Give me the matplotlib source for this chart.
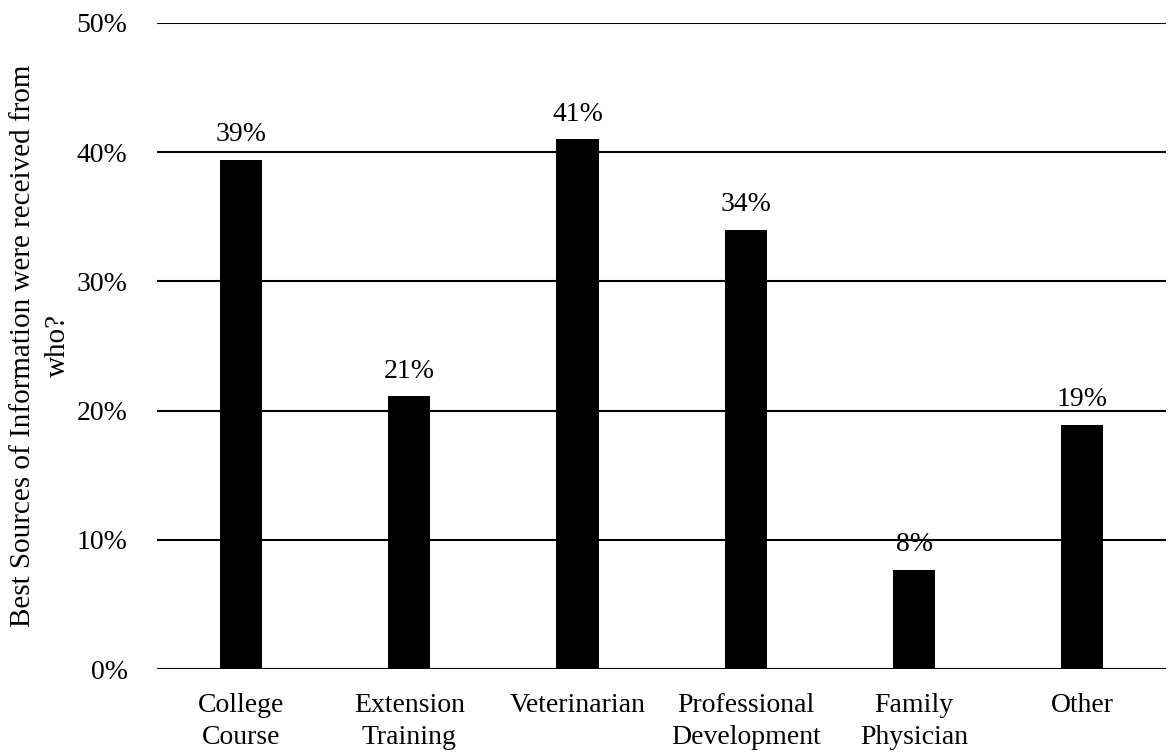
import matplotlib.pyplot as plt
import numpy as np

plt.rcParams['font.family'] = ['Liberation Serif', 'DejaVu Serif']

categories = ['College\nCourse', 'Extension\nTraining', 'Veterinarian',
              'Professional\nDevelopment', 'Family\nPhysician', 'Other']
shares = [39.4, 21.1, 41.0, 34.0, 7.7, 18.9]   # percent of respondents

fig = plt.figure(figsize=(11.7, 7.54), dpi=100)
ax = fig.add_axes([0.134, 0.1127, 0.863, 0.857])

x = np.arange(len(categories))
bars = ax.bar(x, shares, width=0.25, color='black', zorder=3)

for b, v in zip(bars, shares):
    ax.annotate('%d%%' % round(v), (b.get_x() + b.get_width() / 2, v),
                xytext=(0, 9), textcoords='offset points',
                ha='center', va='bottom', fontsize=20)

ax.set_ylim(0, 50)
ax.set_xlim(-0.5, len(categories) - 0.5)
ax.set_yticks(np.arange(0, 51, 10))
ax.set_yticklabels(['%d%%' % t for t in range(0, 51, 10)], fontsize=20)
ax.set_xticks(x)
ax.set_xticklabels(categories, fontsize=20, linespacing=1.4)
ax.tick_params(length=0)
ax.tick_params(axis='x', pad=17)
ax.tick_params(axis='y', pad=21)

ax.yaxis.grid(True, color='black', linewidth=1.5, zorder=0)
for s in ax.spines.values():
    s.set_visible(False)

ax.set_ylabel('Best Sources of Information were received from\nwho?',
              fontsize=21, labelpad=4, linespacing=1.45)

fig.savefig('out.png', dpi=100)
